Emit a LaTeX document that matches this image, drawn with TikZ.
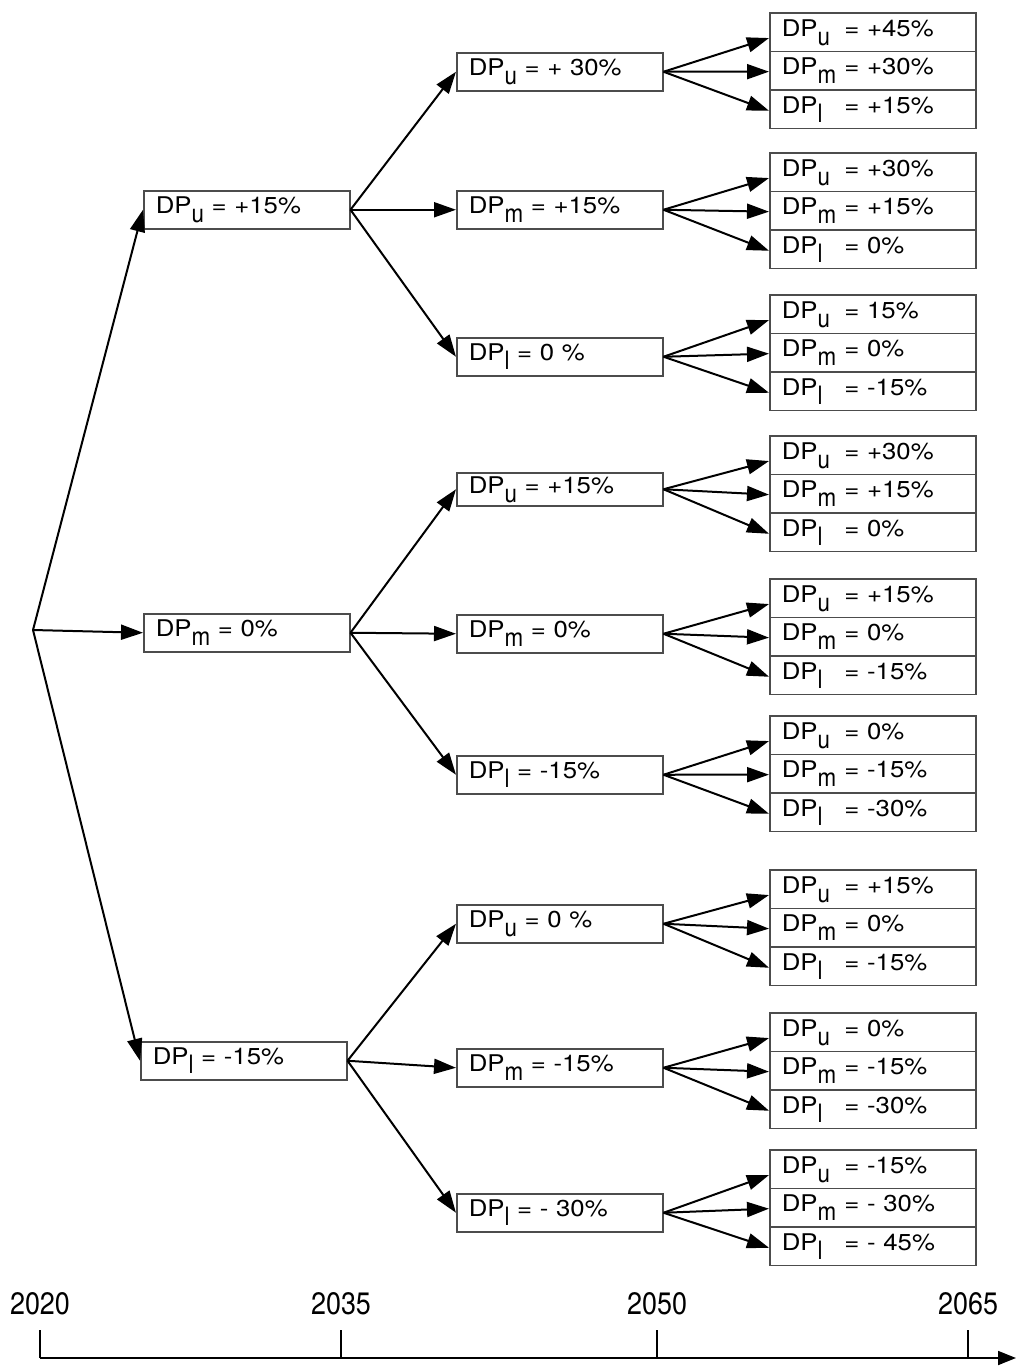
\documentclass[tikz,border=0pt]{standalone}
\usepackage{fontspec}
\usepackage{graphicx}
\setmainfont{TeX Gyre Heros}[FakeStretch=1.12]
\newfontfamily\axisfont{TeX Gyre Heros}[FakeStretch=0.87]
\usetikzlibrary{arrows.meta}
\newcommand{\sbs}[1]{\raisebox{-9pt}{\scalebox{0.87}[1.1]{#1}}}
\newcommand{\dpl}[2]{DP\sbs{#1} = #2}
\newcommand{\dpr}[2]{\makebox[55pt][l]{DP\sbs{#1}} = #2}
\begin{document}
\begin{tikzpicture}[x=1pt,y=-1pt,
  every node/.style={font=\fontsize{23}{27}\selectfont},
  box/.style={draw=black!70, line width=1.5pt, inner xsep=12pt, inner ysep=0pt,
    text width=182pt, align=left, text height=23pt, text depth=15pt, anchor=north west},
  shortbox/.style={box, text height=21pt, text depth=12pt},
  rowbox/.style={box, text height=23.6pt, text depth=15pt},
  arr/.style={line width=2pt, -{Triangle[length=22pt,width=15pt]}},
  axisline/.style={line width=1.8pt, -{Triangle[length=18pt,width=14pt]}},
  tick/.style={line width=1.4pt},
  yearlab/.style={font=\axisfont\fontsize{31}{31}\selectfont, inner sep=0pt}]
\useasboundingbox (0,0) rectangle (1016,1366);
\fill[white] (0,0) rectangle (1016,1366);

% root
\coordinate (root) at (33,630);

% level 1
\node[box] (A) at (143,190) {\dpl{u}{+15\%}};
\node[box] (B) at (143,613) {\dpl{m}{0\%}};
\node[box] (C) at (140,1041) {\dpl{l}{-15\%}};

% level 2
\node[box] (Au) at (456,52) {\dpl{u}{+ 30\%}};
\node[box] (Am) at (456,190) {\dpl{m}{+15\%}};
\node[box] (Al) at (456,337) {\dpl{l}{0 \%}};
\node[shortbox] (Bu) at (456,472) {\dpl{u}{+15\%}};
\node[box] (Bm) at (456,614) {\dpl{m}{0\%}};
\node[box] (Bl) at (456,755) {\dpl{l}{-15\%}};
\node[box] (Cu) at (456,904) {\dpl{u}{0 \%}};
\node[box] (Cm) at (456,1048) {\dpl{m}{-15\%}};
\node[box] (Cl) at (456,1193) {\dpl{l}{- 30\%}};

% arrows root -> level 1
\draw[arr] (root) -- (A.west);
\draw[arr] (root) -- (B.west);
\draw[arr] (root) -- (C.west);

% arrows level 1 -> level 2
\foreach \p in {A,B,C}{
  \draw[arr] (\p.east) -- (\p u.west);
  \draw[arr] (\p.east) -- (\p m.west);
  \draw[arr] (\p.east) -- (\p l.west);
}

% level 3 stacks
\foreach \src/\ty/\vu/\vm/\vl [count=\i] in {
  Au/12/+45\%/+30\%/+15\%,
  Am/152/+30\%/+15\%/0\%,
  Al/294/15\%/0\%/-15\%,
  Bu/435/+30\%/+15\%/0\%,
  Bm/578/+15\%/0\%/-15\%,
  Bl/715/0\%/-15\%/-30\%,
  Cu/869/+15\%/0\%/-15\%,
  Cm/1012/0\%/-15\%/-30\%,
  Cl/1149/-15\%/- 30\%/- 45\%}{
  \node[rowbox] (s\i u) at (769,\ty) {\dpr{u}{\vu}};
  \node[rowbox] (s\i m) at (769,{\ty+38.6}) {\dpr{m}{\vm}};
  \node[rowbox] (s\i l) at (769,{\ty+77.2}) {\dpr{l}{\vl}};
  \draw[arr] (\src.east) -- ([yshift=-6pt]s\i u.west);
  \draw[arr] (\src.east) -- ([yshift=-1pt]s\i m.west);
  \draw[arr] (\src.east) -- ([yshift=-1.5pt]s\i l.west);
}

% time axis
\coordinate (ax0) at (40,1358);
\coordinate (ax1) at (1016,1358);
\draw[axisline] (ax0) -- (ax1);
\foreach \x/\yr in {40/2020, 341/2035, 657/2050, 968/2065}{
  \coordinate (t\yr) at (\x,1330);
  \coordinate (b\yr) at (\x,1358);
  \draw[tick] (b\yr) -- (t\yr);
  \node[yearlab] (y\yr) at (\x,1304) {\yr};
}
\end{tikzpicture}
\end{document}
